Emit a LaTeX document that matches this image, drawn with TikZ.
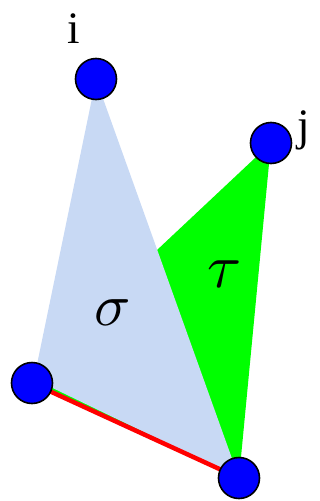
\documentclass[tikz,border=0pt]{standalone}
\usepackage{graphicx}
\usepackage{fontspec}
\setmainfont{Liberation Serif}
\definecolor{sigmablue}{RGB}{200,217,244}
\begin{document}
\begin{tikzpicture}[x=1pt,y=-1pt,
  vtx/.style={circle,draw=black,line width=1.6pt,fill=blue,minimum size=41pt,inner sep=0pt},
  lbl/.style={font=\fontsize{45}{45}\selectfont},
  glbl/.style={inner sep=0pt}]
\useasboundingbox (0,0) rectangle (320,501);
\coordinate (I) at (96,79);
\coordinate (J) at (271,143);
\coordinate (L) at (32,383);
\coordinate (B) at (239,478);
\fill[green] (J) -- (42,358) -- (40,385) -- (B) -- cycle;
\fill[sigmablue] (I) -- (34,379) -- (B) -- cycle;
\draw[red,line width=4.5pt] (L) -- (B);
\node[vtx] (i) at (I) {};
\node[vtx] (j) at (J) {};
\node[vtx] (l) at (L) {};
\node[vtx] (b) at (B) {};
\node[lbl] (li) at (74,29) {i};
\node[lbl] (lj) at (304,130) {j};
\node[glbl] (ls) at (113,313) {\scalebox{6}{$\sigma$}};
\node[glbl] (lt) at (225,274) {\scalebox{6.2}{$\tau$}};
\end{tikzpicture}
\end{document}
